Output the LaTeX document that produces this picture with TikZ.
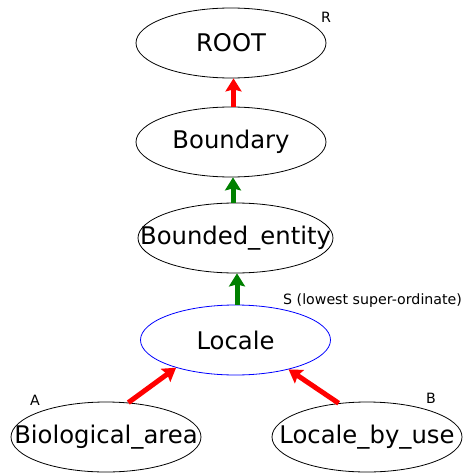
\documentclass[tikz,border=0pt]{standalone}
\usepackage{fontspec}
\setmainfont{DejaVu Sans}
\usetikzlibrary{shapes.geometric,arrows.meta}
\definecolor{linkred}{RGB}{255,0,0}
\definecolor{linkgreen}{RGB}{0,128,0}
\definecolor{focusblue}{RGB}{0,0,255}
\newcommand{\framename}[1]{\makebox[0pt]{#1}}
\tikzset{
  frame/.style={ellipse, draw=black, line width=0.8pt, inner sep=0pt,
    minimum width=190pt, minimum height=70pt,
    font=\fontsize{24.3}{28}\selectfont},
  tag/.style={inner sep=0pt, font=\fontsize{14.2}{16}\selectfont},
  link/.style={line width=5pt,
    -{Stealth[length=13pt,width=16pt,inset=2pt]}},
  parentlink/.style={link, draw=linkred},
  inheritlink/.style={link, draw=linkgreen}
}
\begin{document}
\begin{tikzpicture}[x=1pt,y=-1pt]
  \useasboundingbox (0,0) rectangle (464,473);

  % frame nodes
  \node[frame] (root) at (231,43) {\framename{ROOT}};
  \node[frame] (boundary) at (231,142) {\framename{Boundary}};
  \node[frame, minimum width=195pt] (bounded) at (235.5,238) {\framename{Bounded\_entity}};
  \node[frame, draw=focusblue] (locale) at (235.5,340) {\framename{Locale}};
  \node[frame] (bio) at (106,437) {\framename{Biological\_area}};
  \node[frame] (byuse) at (367,437) {\framename{Locale\_by\_use}};

  % role tags
  \node[tag, anchor=base west] (tagR) at (321,23) {R};
  \node[tag, anchor=base west] (tagS) at (283,304) {S (lowest super-ordinate)};
  \node[tag, anchor=base west] (tagA) at (30,405) {A};
  \node[tag, anchor=base west] (tagB) at (426,403) {B};

  % relations
  \draw[parentlink] ([xshift=2.5pt]boundary.north) -- ([xshift=2.5pt]root.south);
  \draw[inheritlink] ([xshift=-2.5pt]bounded.north) -- ([xshift=2pt]boundary.south);
  \draw[inheritlink] ([xshift=1.5pt]locale.north) -- ([xshift=1.5pt]bounded.south);
  \draw[parentlink] (bio.57) -- (locale.205);
  \draw[parentlink] (byuse.130) -- (locale.331);
\end{tikzpicture}
\end{document}
